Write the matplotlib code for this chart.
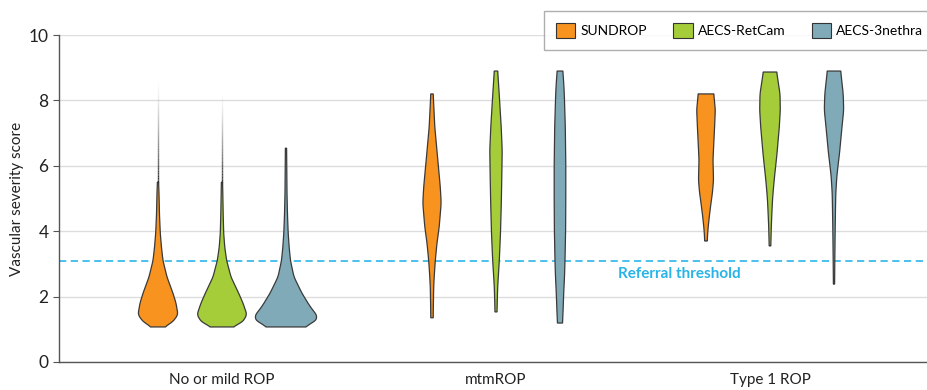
import numpy as np
import matplotlib.pyplot as plt
from matplotlib.patches import Patch
from matplotlib.collections import LineCollection

plt.rcParams['font.family'] = ['Lato', 'DejaVu Sans']

groups = ['No or mild ROP', 'mtmROP', 'Type 1 ROP']
series = ['SUNDROP', 'AECS-RetCam', 'AECS-3nethra']
colors = ['#F7931E', '#A5CD39', '#80AAB8']
threshold = 3.1

# violin outlines: score levels and relative half-widths
# order: group -> series
levels = [
    [[1.07, 1.2, 1.44, 1.8, 2.1, 2.6, 3.1, 3.5, 3.94, 4.5, 5.16, 5.5],
     [1.07, 1.2, 1.44, 1.8, 2.1, 2.6, 3.1, 3.5, 3.94, 4.5, 5.0, 5.5],
     [1.07, 1.2, 1.38, 1.7, 2.1, 2.6, 3.1, 3.5, 3.94, 4.5, 5.16, 6.54]],
    [[1.35, 1.8, 2.3, 2.7, 3.1, 3.64, 4.13, 4.86, 5.35, 6.18, 7.19, 8.2],
     [1.53, 1.9, 2.3, 2.7, 3.1, 3.94, 4.86, 5.66, 6.48, 7.19, 8.2, 8.9],
     [1.19, 1.5, 2.1, 2.6, 3.1, 4.0, 5.0, 6.0, 7.19, 8.2, 8.6, 8.9]],
    [[3.7, 3.9, 4.13, 4.5, 4.86, 5.2, 5.57, 6.18, 6.7, 7.2, 7.71, 8.2],
     [3.55, 4.13, 4.5, 4.95, 5.3, 5.66, 6.0, 6.38, 7.19, 7.71, 8.2, 8.87],
     [2.38, 3.1, 4.13, 4.7, 5.16, 5.66, 6.0, 6.38, 7.19, 7.71, 8.2, 8.9]],
]
dens = [
    [[6, 14, 20, 18, 15, 9, 5, 3.5, 2.3, 1.5, 1.0, 0.6],
     [10, 20, 25, 21, 16.7, 9, 4.7, 2.8, 1.7, 1.2, 0.9, 0.6],
     [17.5, 28, 32, 24, 16, 8, 4.5, 3.2, 2.2, 1.5, 1.0, 0.6]],
    [[1.2, 1.4, 1.7, 2.4, 3.3, 5, 7.2, 9.2, 8.3, 5.8, 2.8, 1.2],
     [1.0, 1.3, 1.7, 2.5, 3.3, 4.5, 5.3, 5.8, 6.2, 5.2, 3.2, 1.7],
     [2.5, 3.0, 3.7, 4.5, 5.0, 5.6, 5.8, 5.8, 5.3, 4.3, 3.6, 2.8]],
    [[1.3, 1.6, 2.2, 3.5, 5, 6.5, 7.5, 7.0, 7.8, 8.6, 9.3, 7.8],
     [0.8, 1.3, 1.8, 2.5, 3.4, 4.5, 5.7, 7.0, 9.3, 10.3, 10, 6.7],
     [0.6, 0.8, 1.2, 1.5, 1.8, 2.8, 4.0, 5.5, 8.0, 9.7, 9.2, 6.7]],
]
# faint upper tails (start, end) of the no-or-mild violins
tails = [(5.5, 8.56), (5.5, 8.17), None]


def smooth_outline(y, w, n=200, k=9):
    yy = np.linspace(y[0], y[-1], n)
    ww = np.interp(yy, y, w)
    pad = np.concatenate([np.full(k, ww[0]), ww, np.full(k, ww[-1])])
    ww = np.convolve(pad, np.ones(k) / k, mode='same')[k:-k]
    return yy, ww


fig = plt.figure(figsize=(9.27, 3.9), dpi=100)
ax = fig.add_axes([0.0636, 0.072, 0.9364, 0.838])

px = 1 / 274  # width scale: half-width units -> x data units
offsets = [-64 / 274, 0, 64 / 274]

for g in range(3):
    for s in range(3):
        x0 = g + offsets[s]
        y, w = smooth_outline(np.array(levels[g][s]), np.array(dens[g][s]) * px)
        xs = np.concatenate([x0 - w, (x0 + w)[::-1]])
        ys = np.concatenate([y, y[::-1]])
        ax.fill(xs, ys, color=colors[s], ec='#3a3a3a', lw=0.9, zorder=3)
        if g == 0 and tails[s] is not None:
            t0, t1 = tails[s]
            ty = np.linspace(t0, t1, 60)
            segs = [[(x0, ty[i]), (x0, ty[i + 1])] for i in range(len(ty) - 1)]
            a = np.linspace(1, 0.05, len(segs)) ** 1.5
            cols = [(0.15, 0.15, 0.15, v) for v in a]
            ax.add_collection(LineCollection(segs, colors=cols, lw=1.0, zorder=3))

ax.axhline(threshold, color='#3CBCEB', lw=1.3, ls=(0, (4, 2.5)), zorder=2)
ax.text(1.67, threshold - 0.2, 'Referral threshold', color='#29B3E6',
        fontweight='bold', fontsize=11, ha='center', va='top')

ax.set_xlim(-0.595, 2.573)
ax.set_ylim(0, 10)
ax.set_yticks([0, 2, 4, 6, 8, 10])
ax.set_xticks(range(3))
ax.set_xticklabels(groups)
ax.tick_params(axis='x', length=0, pad=8, labelsize=11, colors='#222222')
ax.tick_params(axis='y', length=4, width=0.8, color='#555555', labelsize=12.5, labelcolor='#222222')
ax.grid(axis='y', color='#dddddd', lw=1)
ax.set_axisbelow(True)
ax.set_ylabel('Vascular severity score', fontsize=11, color='#222222', labelpad=3)
for sp in ['top', 'right']:
    ax.spines[sp].set_visible(False)
for sp in ['left', 'bottom']:
    ax.spines[sp].set_color('#555555')
    ax.spines[sp].set_linewidth(1.0)

handles = [Patch(fc=c, ec='#333333', lw=0.8) for c in colors]
leg = fig.legend(handles, series, loc='upper left', bbox_to_anchor=(544 / 927, 1 - 11 / 390),
                 ncol=3, frameon=True, fancybox=False, fontsize=10, handlelength=1.4,
                 handleheight=1.3, columnspacing=1.9, handletextpad=0.36, borderpad=0.85,
                 borderaxespad=0)
leg.get_frame().set_edgecolor('#9a9a9a')
leg.get_frame().set_linewidth(1.0)

fig.savefig('out.png', dpi=100)
